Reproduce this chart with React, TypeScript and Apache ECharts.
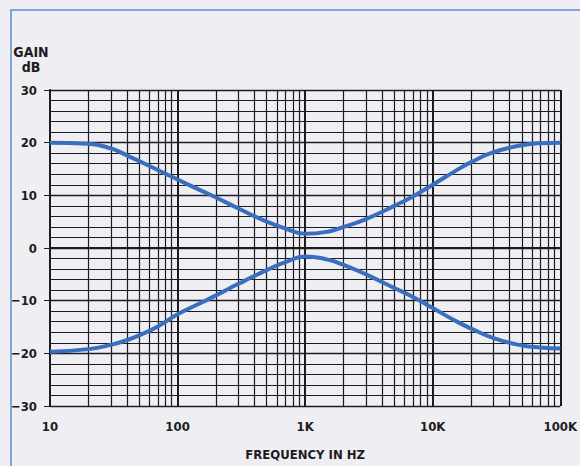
import React, { useEffect, useRef } from "react";
import * as echarts from "echarts";

const freqs = [10, 20, 30, 40, 50, 70, 100, 150, 200, 300, 500, 700, 1000, 1500, 2000, 3000, 5000, 7000, 10000, 15000, 20000, 30000, 50000, 70000, 100000];
const upperGain = [20.0, 19.8, 18.9, 17.6, 16.5, 14.8, 13.0, 11.0, 9.6, 7.5, 5.0, 3.7, 2.7, 3.1, 4.0, 5.5, 8.0, 9.8, 12.0, 14.6, 16.3, 18.2, 19.5, 19.9, 20.0];
const lowerGain = [-19.7, -19.2, -18.4, -17.5, -16.6, -14.9, -12.6, -10.5, -9.0, -6.8, -4.2, -2.7, -1.6, -2.2, -3.2, -5.0, -7.6, -9.3, -11.4, -13.8, -15.3, -17.1, -18.5, -18.9, -19.1];
const decades = [10, 100, 1000, 10000];
const decadeLabels: Record<number, string> = { 10: "10", 100: "100", 1000: "1K", 10000: "10K", 100000: "100K" };
const yTicks = [-30, -20, -10, 0, 10, 20, 30];

const FONT = "'Liberation Sans Narrow', 'DejaVu Sans Condensed', sans-serif";
const INK = "#1c1c20";
const BLUE = "#3a6fbf";

export default function App() {
  const ref = useRef<HTMLDivElement>(null);
  useEffect(() => {
    document.body.style.margin = "0";
    const chart = echarts.init(ref.current!, undefined, { renderer: "svg" });
    const minorLines: { xAxis: number }[] = [];
    decades.forEach((d) => {
      for (let m = 2; m <= 9; m++) minorLines.push({ xAxis: d * m });
    });
    chart.setOption({
      animation: false,
      backgroundColor: "#eeeef3",
      grid: { left: 50, right: 14, top: 90, bottom: 58 },
      xAxis: {
        type: "log",
        logBase: 10,
        min: 10,
        max: 100000,
        axisLine: { show: true, lineStyle: { color: INK, width: 2 } },
        axisTick: { show: true, length: 6, lineStyle: { color: INK, width: 2 } },
        axisLabel: {
          color: INK,
          fontFamily: FONT,
          fontWeight: "bold",
          fontSize: 13,
          margin: 14,
          formatter: (v: number) => decadeLabels[Math.round(v)] ?? "",
        },
        splitLine: { show: true, lineStyle: { color: INK, width: 2 } },
        minorTick: { show: false },
        name: "FREQUENCY IN HZ",
        nameLocation: "middle",
        nameGap: 42,
        nameTextStyle: { color: INK, fontFamily: FONT, fontWeight: "bold", fontSize: 13 },
      },
      yAxis: {
        type: "value",
        min: yTicks[0],
        max: yTicks[yTicks.length - 1],
        interval: 10,
        axisLine: { show: true, lineStyle: { color: INK, width: 2 } },
        axisTick: { show: true, length: 6, lineStyle: { color: INK, width: 1 } },
        axisLabel: {
          color: INK,
          fontFamily: FONT,
          fontWeight: "bold",
          fontSize: 13,
          margin: 13,
          formatter: (v: number) => (v < 0 ? "\u2212" + Math.abs(v) : String(v)),
        },
        splitLine: { show: true, lineStyle: { color: INK, width: 1.3 } },
        minorTick: { show: false, splitNumber: 5 },
        minorSplitLine: { show: true, lineStyle: { color: INK, width: 1.2 } },
        splitNumber: 6,
      },
      graphic: [
        {
          type: "rect",
          shape: { x: 11, y: 10, width: 700, height: 600 },
          style: { fill: "none", stroke: "#7ea6dc", lineWidth: 2 },
          silent: true,
          z: 0,
        },
        {
          type: "text",
          x: 31,
          y: 52,
          style: {
            text: "GAIN",
            fill: INK,
            font: `bold 14px ${FONT}`,
            align: "center",
            verticalAlign: "middle",
          },
        },
        {
          type: "text",
          x: 31,
          y: 67,
          style: {
            text: "dB",
            fill: INK,
            font: `bold 14px ${FONT}`,
            align: "center",
            verticalAlign: "middle",
          },
        },
      ],
      series: [
        {
          name: "Boost",
          type: "line",
          smooth: 0.5,
          showSymbol: false,
          data: freqs.map((f, i) => [f, upperGain[i]]),
          lineStyle: { color: BLUE, width: 4 },
          z: 5,
          markLine: {
            silent: true,
            symbol: "none",
            label: { show: false },
            lineStyle: { color: INK, width: 1.2, type: "solid" },
            data: minorLines,
            z: 1,
          },
        },
        {
          name: "Cut",
          type: "line",
          smooth: 0.5,
          showSymbol: false,
          data: freqs.map((f, i) => [f, lowerGain[i]]),
          lineStyle: { color: BLUE, width: 4 },
          z: 5,
        },
      ],
    });
    return () => chart.dispose();
  }, []);
  return <div ref={ref} style={{ position: "absolute", left: 0, top: 0, width: 580, height: 466 }} />;
}
